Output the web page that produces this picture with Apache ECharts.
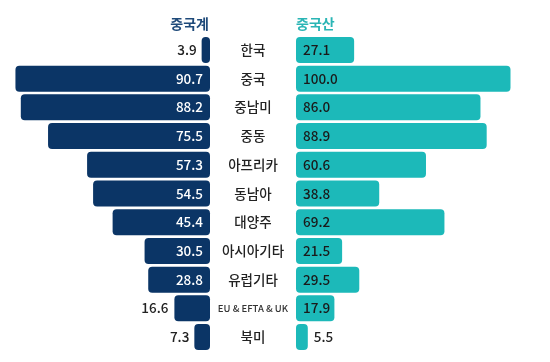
<!DOCTYPE html>
<html><head><meta charset="utf-8">
<script src="https://cdn.jsdelivr.net/npm/echarts@6/dist/echarts.min.js"></script>
<style>html,body{margin:0;padding:0;background:#fff}#c{width:550px;height:362px}</style>
</head><body><div id="c"></div>
<script>
const categories = ['한국','중국','중남미','중동','아프리카','동남아','대양주','아시아기타','유럽기타','EU & EFTA & UK','북미'];
const chineseBrand = [3.9,90.7,88.2,75.5,57.3,54.5,45.4,30.5,28.8,16.6,7.3];
const madeInChina = [27.1,100.0,86.0,88.9,60.6,38.8,69.2,21.5,29.5,17.9,5.5];
const leftTitle = '중국계';
const rightTitle = '중국산';

const NAVY = '#0b3566', TEAL = '#1cb9b9';
const FONT = 'Noto Sans CJK KR';
const chart = echarts.init(document.getElementById('c'));
const gTop = 35.6, gBottom = 10.6;
const smallThresh = 10, smallThreshR = 8;

chart.setOption({
  animation: false,
  textStyle: {fontFamily: FONT},
  graphic: [
    {type:'text', right: 341, top: 17, style:{text: leftTitle, fill:'#1f4a7a', font:'bold 14px "Noto Sans CJK KR"', textAlign:'right'}},
    {type:'text', left: 296, top: 17, style:{text: rightTitle, fill:'#2ab5b5', font:'bold 14px "Noto Sans CJK KR"'}}
  ],
  grid: [
    {left: 0, width: 210, top: gTop, bottom: gBottom},
    {left: 296, width: 214.5, top: gTop, bottom: gBottom}
  ],
  xAxis: [
    {gridIndex:0, type:'value', min:0, max:97.9, inverse:true, show:false},
    {gridIndex:1, type:'value', min:0, max:100, show:false}
  ],
  yAxis: [
    {gridIndex:0, type:'category', data:categories, inverse:true, show:false},
    {gridIndex:1, type:'category', data:categories, inverse:true,
     axisLine:{show:false}, axisTick:{show:false},
     axisLabel:{margin:43, align:'center', color:'#222', fontSize:13.5, fontWeight:500, fontFamily:FONT,
       formatter: v => v.length > 8 ? '{s|' + v + '}' : v,
       rich:{s:{fontSize:9.5, fontWeight:500, color:'#333', fontFamily:FONT}}}}
  ],
  series: [
    {type:'bar', xAxisIndex:0, yAxisIndex:0, barWidth:26,
     itemStyle:{color:NAVY, borderRadius:4},
     data: chineseBrand.map(v => ({value:v, label: v < smallThresh ?
        {show:true, position:'left', color:'#222', distance:5} :
        (v < 20 ? {show:true, position:'left', color:'#222', distance:6} :
        {show:true, position:'insideRight', color:'#fff', distance:7})})),
     label:{fontSize:13.5, fontWeight:500, fontFamily:FONT, formatter: p => p.value.toFixed(1)}},
    {type:'bar', xAxisIndex:1, yAxisIndex:1, barWidth:26,
     itemStyle:{color:TEAL, borderRadius:4},
     data: madeInChina.map(v => ({value:v, label: v < smallThreshR ?
        {show:true, position:'right', color:'#222', distance:6} :
        {show:true, position:'insideLeft', color:'#1a1a1a', distance:7}})),
     label:{fontSize:13.5, fontWeight:500, fontFamily:FONT, formatter: p => p.value.toFixed(1)}}
  ]
});
</script></body></html>
